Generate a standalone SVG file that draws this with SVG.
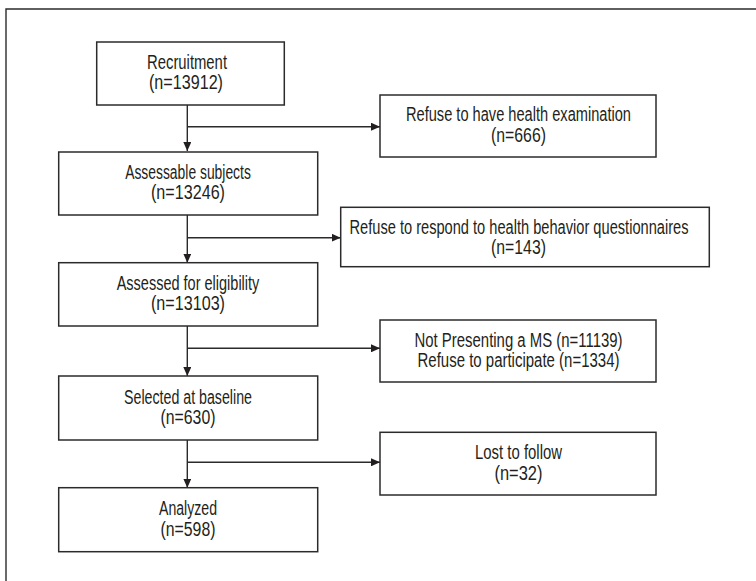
<svg xmlns="http://www.w3.org/2000/svg" width="756" height="581" viewBox="0 0 756 581">
<style>
.box{fill:#fff;stroke:#2b2b2b;stroke-width:1.5}
.ln{fill:none;stroke:#2b2b2b;stroke-width:1.4}
text{font-family:"Liberation Sans",Arial,sans-serif;font-size:20px;fill:#231f20;text-anchor:middle}
</style>
<defs>
<marker id="ah" markerUnits="userSpaceOnUse" markerWidth="10" markerHeight="8" refX="9" refY="4" orient="auto">
<path d="M0,0 L9,4 L0,8 Z" fill="#231f20"/>
</marker>
</defs>
<rect width="756" height="581" fill="#fff"/>
<polyline class="ln" points="6,581 6,9 756,9"/>
<g id="connectors">
<line class="ln" x1="187.3" y1="105" x2="187.3" y2="151" marker-end="url(#ah)"/>
<line class="ln" x1="187.3" y1="126.7" x2="380" y2="126.7" marker-end="url(#ah)"/>
<line class="ln" x1="187.3" y1="215" x2="187.3" y2="262.7" marker-end="url(#ah)"/>
<line class="ln" x1="187.3" y1="237.7" x2="340.7" y2="237.7" marker-end="url(#ah)"/>
<line class="ln" x1="187.3" y1="326" x2="187.3" y2="376" marker-end="url(#ah)"/>
<line class="ln" x1="187.3" y1="348.3" x2="380" y2="348.3" marker-end="url(#ah)"/>
<line class="ln" x1="187.3" y1="440" x2="187.3" y2="487.7" marker-end="url(#ah)"/>
<line class="ln" x1="187.3" y1="462.3" x2="380" y2="462.3" marker-end="url(#ah)"/>
</g>
<g id="recruitment">
<rect class="box" x="96.7" y="42" width="187.6" height="63"/>
<text x="187" y="68.5" textLength="80" lengthAdjust="spacingAndGlyphs">Recruitment</text>
<text x="186" y="89.3" textLength="74" lengthAdjust="spacingAndGlyphs">(n=13912)</text>
</g>
<g id="refuse-exam">
<rect class="box" x="380" y="95" width="276" height="62"/>
<text x="518.5" y="121.2" textLength="225" lengthAdjust="spacingAndGlyphs">Refuse to have health examination</text>
<text x="518.5" y="141.8" textLength="55" lengthAdjust="spacingAndGlyphs">(n=666)</text>
</g>
<g id="assessable">
<rect class="box" x="58.7" y="152" width="259" height="63"/>
<text x="188" y="178.5" textLength="125.7" lengthAdjust="spacingAndGlyphs">Assessable subjects</text>
<text x="188" y="199.3" textLength="74" lengthAdjust="spacingAndGlyphs">(n=13246)</text>
</g>
<g id="refuse-questionnaire">
<rect class="box" x="340.7" y="207.3" width="368.6" height="59.4"/>
<text transform="translate(519,233.5) scale(0.7313,1)" x="0" y="0">Refuse to respond to health behavior questionnaires</text>
<text x="518.5" y="254" textLength="55" lengthAdjust="spacingAndGlyphs">(n=143)</text>
</g>
<g id="assessed">
<rect class="box" x="58.7" y="262.7" width="259" height="63.3"/>
<text x="188" y="289.8" textLength="142.7" lengthAdjust="spacingAndGlyphs">Assessed for eligibility</text>
<text x="188" y="310.3" textLength="74" lengthAdjust="spacingAndGlyphs">(n=13103)</text>
</g>
<g id="not-presenting">
<rect class="box" x="380" y="320" width="276" height="62"/>
<text x="518.5" y="346.5" textLength="208" lengthAdjust="spacingAndGlyphs">Not Presenting a MS (n=11139)</text>
<text x="518.5" y="367" textLength="202" lengthAdjust="spacingAndGlyphs">Refuse to participate (n=1334)</text>
</g>
<g id="selected">
<rect class="box" x="58.7" y="376" width="259" height="64"/>
<text x="188" y="403.5" textLength="128" lengthAdjust="spacingAndGlyphs">Selected at baseline</text>
<text x="188" y="424" textLength="55" lengthAdjust="spacingAndGlyphs">(n=630)</text>
</g>
<g id="lost">
<rect class="box" x="380" y="432.3" width="276" height="62.7"/>
<text x="518.5" y="459" textLength="87" lengthAdjust="spacingAndGlyphs">Lost to follow</text>
<text x="518.5" y="479.5" textLength="48" lengthAdjust="spacingAndGlyphs">(n=32)</text>
</g>
<g id="analyzed">
<rect class="box" x="58.7" y="487.7" width="259" height="64"/>
<text x="188" y="515" textLength="58" lengthAdjust="spacingAndGlyphs">Analyzed</text>
<text x="188" y="535.5" textLength="55" lengthAdjust="spacingAndGlyphs">(n=598)</text>
</g>
</svg>
